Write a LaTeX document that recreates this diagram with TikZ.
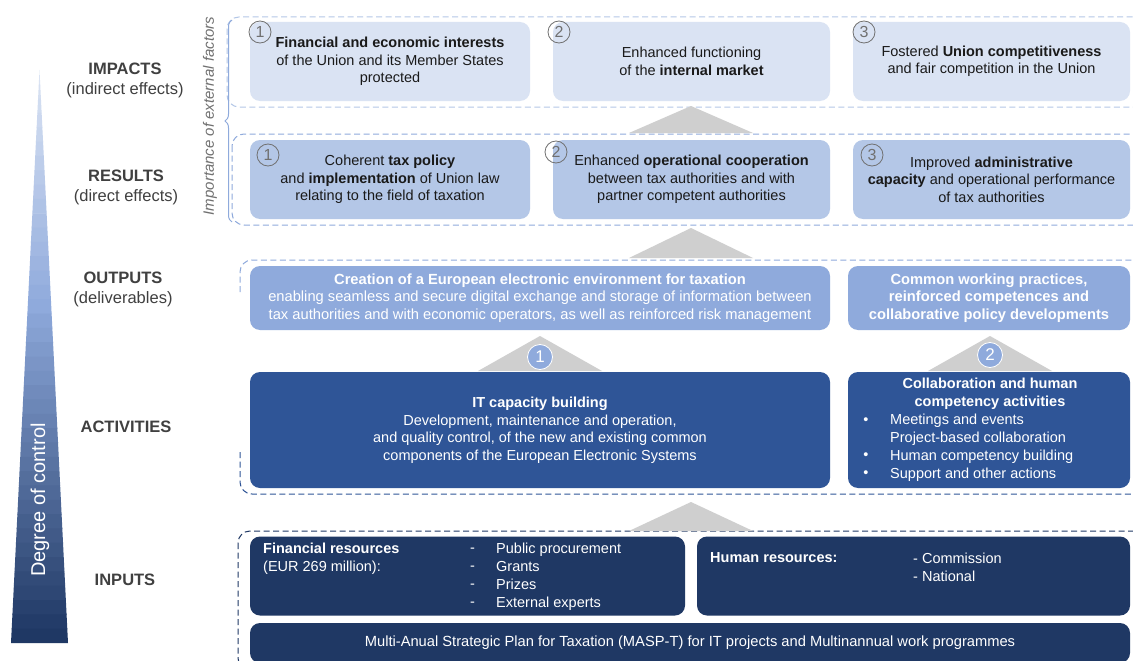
\documentclass[tikz,border=0pt]{standalone}
\usepackage{fontspec}
\setmainfont{Liberation Sans}
\usetikzlibrary{decorations.pathreplacing}

\definecolor{impfill}{HTML}{DAE3F3}
\definecolor{resfill}{HTML}{B4C7E7}
\definecolor{outfill}{HTML}{8FAADC}
\definecolor{actfill}{HTML}{2F5597}
\definecolor{inpfill}{HTML}{1F3864}
\definecolor{boxtext}{HTML}{1A1A1A}
\definecolor{lbltext}{HTML}{404040}
\definecolor{numgray}{HTML}{707070}
\definecolor{arrowgray}{HTML}{CFCFCF}

\tikzset{
  tilebox/.style={rounded corners=10pt, minimum height=79, inner sep=0pt, align=center,
                  font=\fontsize{14.5}{17.5}\selectfont, text=boxtext},
  impbox/.style={tilebox, fill=impfill},
  resbox/.style={tilebox, fill=resfill},
  outbox/.style={tilebox, fill=outfill, text=white, minimum height=64, font=\fontsize{14.7}{17.5}\selectfont},
  actbox/.style={tilebox, fill=actfill, text=white, minimum height=116, font=\fontsize{14.5}{17.5}\selectfont},
  inpbox/.style={tilebox, fill=inpfill, text=white, font=\fontsize{14.7}{17.5}\selectfont},
  whitetxt/.style={inner sep=0pt, text=white, align=left, font=\fontsize{14.5}{18}\selectfont},
  lvl/.style={align=center, text=lbltext, font=\fontsize{16.5}{20}\selectfont},
  numring/.style={circle, draw=numgray, line width=0.8pt, minimum size=22, inner sep=0pt,
                  text=numgray, font=\fontsize{16}{16}\selectfont},
  tribadge/.style={circle, fill=outfill, draw=white, line width=0.8pt, minimum size=25,
                   inner sep=0pt, text=white, font=\fontsize{17}{17}\selectfont},
  frameline/.style={dashed, dash pattern=on 6pt off 3.5pt, line width=1pt, rounded corners=12pt}
}

\begin{document}
\begin{tikzpicture}[x=1pt, y=-1pt]

\useasboundingbox (0,0) rectangle (1133,661);
\clip (0,0) rectangle (1133,661);
\fill[white] (0,0) rectangle (1133,661);

% Degree of control wedge
\foreach \i in {0,...,39} {
  \pgfmathsetmacro{\ya}{70+\i*14.325}
  \pgfmathsetmacro{\yb}{min(\ya+14.8,643)}
  \pgfmathsetmacro{\wa}{(\ya-70)/573*28.5}
  \pgfmathsetmacro{\wb}{(\yb-70)/573*28.5}
  \ifnum\i<16
    \pgfmathtruncatemacro{\pc}{100-\i*100/16}
    \def\wedgecol{impfill!\pc!outfill}
  \else
    \pgfmathtruncatemacro{\pc}{100-(\i-16)*100/23}
    \def\wedgecol{outfill!\pc!inpfill}
  \fi
  \fill[\wedgecol] (39.5-\wa,\ya) -- (39.5+\wa,\ya) -- (39.5+\wb,\yb) -- (39.5-\wb,\yb) -- cycle;
}
\node[rotate=90, text=white, font=\fontsize{20}{20}\selectfont] (ctrl) at (40,500) {Degree of control};

% Level labels
\node[lvl] (lvlimp) at (125,80)    {\textbf{IMPACTS}\\(indirect effects)};
\node[lvl] (lvlres) at (126,187)   {\textbf{RESULTS}\\(direct effects)};
\node[lvl] (lvlout) at (123,289.5) {\textbf{OUTPUTS}\\(deliverables)};
\node[lvl] (lvlact) at (126,427)   {\textbf{ACTIVITIES}};
\node[lvl] (lvlinp) at (125,580)   {\textbf{INPUTS}};

% Dashed frames
\draw[frameline, draw=resfill] (227,17) rectangle (1150,107);
\draw[frameline, draw=outfill] (232,134) rectangle (1150,225);
\draw[frameline, draw=outfill] (240,292) |- (1150,260);
\draw[frameline, draw=actfill] (240,452) |- (1150,494);
\draw[frameline, draw=inpfill] (238,531) rectangle (1150,670);

% External factors brace
\draw[decorate, decoration={brace, amplitude=7pt}, draw=outfill, line width=1pt] (232,222) -- (232,20);
\node[rotate=90, text=numgray, font=\itshape\fontsize{15}{15}\selectfont] (extf) at (210,116)
  {Importance of external factors};

% Gray arrows between levels
\foreach \cx/\ya/\yb in {691/106/133, 691/228/258, 540/336/371, 990/336/371, 691/502/531}
  \fill[arrowgray] (\cx-62,\yb) -- (\cx,\ya) -- (\cx+62,\yb) -- cycle;

% Impacts
\node[impbox, minimum width=280] (imp1) at (390,61.5)
  {\textbf{Financial and economic interests}\\of the Union and its Member States\\protected};
\node[impbox, minimum width=277] (imp2) at (691.5,61.5)
  {Enhanced functioning\\of the \textbf{internal market}};
\node[impbox, minimum width=277] (imp3) at (991.5,61.5)
  {Fostered \textbf{Union competitiveness}\\and fair competition in the Union};

% Results
\node[resbox, minimum width=280] (res1) at (390,179.5)
  {Coherent \textbf{tax policy}\\and \textbf{implementation} of Union law\\relating to the field of taxation};
\node[resbox, minimum width=277] (res2) at (691.5,179.5)
  {Enhanced \textbf{operational cooperation}\\between tax authorities and with\\partner competent authorities};
\node[resbox, minimum width=277] (res3) at (991.5,179.5)
  {Improved \textbf{administrative}\\\textbf{capacity} and operational performance\\of tax authorities};

% Numbers
\foreach \n/\px/\py in {1/260/32, 2/559/32, 3/864/32, 1/268/155, 2/556/152, 3/872/155}
  \node[numring] (ring\px) at (\px,\py) {\n};

% Outputs
\node[outbox, minimum width=580] (out1) at (540,298)
  {\textbf{Creation of a European electronic environment for taxation}\\
   enabling seamless and secure digital exchange and storage of information between\\
   tax authorities and with economic operators, as well as reinforced risk management};
\node[outbox, minimum width=282] (out2) at (989,298)
  {\textbf{Common working practices,}\\\textbf{reinforced competences and}\\\textbf{collaborative policy developments}};

\node[tribadge] (badge1) at (540,357) {1};
\node[tribadge] (badge2) at (990,355) {2};

% Activities
\node[actbox, minimum width=580] (act1) at (540,430)
  {\textbf{IT capacity building}\\Development, maintenance and operation,\\
   and quality control, of the new and existing common\\components of the European Electronic Systems};
\node[actbox, minimum width=282] (act2) at (989,430) {};
\node[whitetxt, align=center] (act2head) at (990,394)
  {\textbf{Collaboration and human}\\\textbf{competency activities}};
\node[whitetxt, anchor=west] (act2list) at (890,447.5)
  {Meetings and events\\Project-based collaboration\\Human competency building\\Support and other actions};
\foreach \by in {421,456,474}
  \node[whitetxt] (bul\by) at (866,\by) {\textbullet};

% Inputs
\node[inpbox, minimum width=435] (fin) at (467.5,576) {};
\node[inpbox, minimum width=433] (hum) at (913.5,576) {};
\node[inpbox, minimum width=880, minimum height=40] (masp) at (690,643)
  {Multi-Anual Strategic Plan for Taxation (MASP-T) for IT projects and Multinannual work programmes};

\node[whitetxt, anchor=west] (finlbl) at (263,559) {\textbf{Financial resources}\\(EUR 269 million):};
\node[whitetxt, anchor=west] (findash) at (470,577) {-\\-\\-\\-};
\node[whitetxt, anchor=west] (finlist) at (496,577) {Public procurement\\Grants\\Prizes\\External experts};
\node[whitetxt, anchor=west] (humlbl) at (710,558) {\textbf{Human resources:}};
\node[whitetxt, anchor=west] (humlist) at (913,567) {- Commission\\- National};

\end{tikzpicture}
\end{document}
